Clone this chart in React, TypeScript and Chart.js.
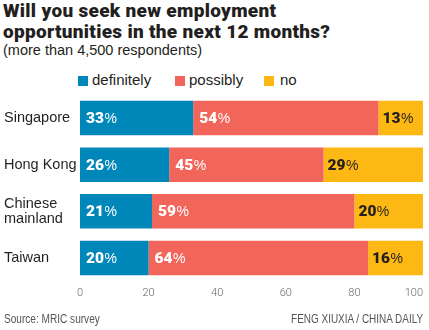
import React, { useEffect, useRef } from "react";
import { Chart, registerables } from "chart.js";

Chart.register(...registerables);

const categories: (string | string[])[] = ["Singapore", "Hong Kong", ["Chinese", "mainland"], "Taiwan"];
const definitely = [33, 26, 21, 20];
const possibly = [54, 45, 59, 64];
const no = [13, 29, 20, 16];
const seriesNames = ["definitely", "possibly", "no"];
const xTicks = [0, 20, 40, 60, 80, 100];

const COLORS = ["#0087b9", "#f2655a", "#fdb813"];
const DARK = "#231f20";

const barLabels = {
  id: "barLabels",
  afterDatasetsDraw(chart: any) {
    const ctx = chart.ctx;
    ctx.save();
    ctx.textBaseline = "middle";
    chart.data.datasets.forEach((ds: any, di: number) => {
      const meta = chart.getDatasetMeta(di);
      meta.data.forEach((bar: any, i: number) => {
        const v = ds.data[i];
        const x0 = Math.min(bar.base, bar.x) + (di === 2 ? 4 : 6);
        const y = bar.y + 1;
        ctx.fillStyle = di === 2 ? DARK : "#ffffff";
        ctx.textAlign = "left";
        ctx.font = "900 15.5px Roboto";
        const num = String(v);
        ctx.fillText(num, x0, y);
        const w = ctx.measureText(num).width;
        ctx.font = "400 14px 'Liberation Sans'";
        ctx.fillText("%", x0 + w + 0.5, y);
      });
    });
    // x tick labels
    const xs = chart.scales.x;
    ctx.fillStyle = "#666";
    ctx.font = "300 11px Roboto";
    ctx.textBaseline = "middle";
    xTicks.forEach((t, i) => {
      const px = xs.getPixelForValue(t);
      if (i === xTicks.length - 1) {
        ctx.textAlign = "right";
        ctx.fillText(String(t), px, 293);
      } else {
        ctx.textAlign = "center";
        ctx.fillText(String(t), px, 293);
      }
    });
    ctx.restore();
  },
};

export default function App() {
  const ref = useRef<HTMLCanvasElement>(null);
  useEffect(() => {
    if (!ref.current) return;
    const data = [definitely, possibly, no];
    const chart = new Chart(ref.current, {
      type: "bar",
      data: {
        labels: categories,
        datasets: data.map((d, i) => ({
          label: seriesNames[i],
          data: d,
          backgroundColor: COLORS[i],
          borderWidth: 0,
          barPercentage: 1,
          categoryPercentage: 0.74,
        })),
      },
      options: {
        indexAxis: "y",
        responsive: false,
        animation: false,
        layout: { padding: { left: 4, right: 6, top: 94.7, bottom: 40.7 } },
        plugins: { legend: { display: false }, tooltip: { enabled: false } },
        scales: {
          x: {
            stacked: true,
            min: 0,
            max: 100,
            ticks: { display: false, stepSize: 20 },
            grid: { display: false },
            border: { display: false },
          },
          y: {
            stacked: true,
            grid: { display: false },
            border: { display: false },
            afterFit: (s: any) => {
              s.width = 76;
            },
            ticks: {
              crossAlign: "far",
              color: DARK,
              font: { family: "'Liberation Sans'", size: 14.5, lineHeight: 1 },
            },
          },
        },
      },
      plugins: [barLabels],
    });
    return () => chart.destroy();
  }, []);

  const abs = (o: React.CSSProperties): React.CSSProperties => ({ position: "absolute", margin: 0, whiteSpace: "nowrap", ...o });
  const legendItems = [
    { sx: 78, tx: 92, label: seriesNames[0] },
    { sx: 175, tx: 189, label: seriesNames[1] },
    { sx: 264, tx: 280, label: seriesNames[2] },
  ];

  return (
    <div style={{ position: "absolute", left: 0, top: 0, width: 429, height: 330, background: "#fff", overflow: "hidden", color: DARK }}>
      <div style={abs({ left: 3, top: 0, fontFamily: "Roboto", fontWeight: 900, fontSize: 19, lineHeight: "21px", letterSpacing: "0.3px" })}>
        Will you seek new employment
        <br />
        opportunities in the next 12 months?
      </div>
      <div style={abs({ left: 3, top: 42, fontFamily: "'Liberation Sans'", fontSize: 14.5, lineHeight: "16px" })}>
        (more than 4,500 respondents)
      </div>
      {legendItems.map((it, i) => (
        <React.Fragment key={i}>
          <div style={abs({ left: it.sx, top: 76, width: 10, height: 10, background: COLORS[i] })} />
          <div style={abs({ left: it.tx, top: 71, fontFamily: "'Liberation Sans'", fontSize: 15, lineHeight: "17px" })}>{it.label}</div>
        </React.Fragment>
      ))}
      <canvas ref={ref} width={429} height={330} style={{ position: "absolute", left: 0, top: 0, width: 429, height: 330 }} />
      <div style={abs({ left: 4, top: 312, fontFamily: "'Liberation Sans'", fontSize: 12, lineHeight: "14px", color: "#555", transform: "scaleX(0.84)", transformOrigin: "left top" })}>
        Source: MRIC survey
      </div>
      <div style={abs({ right: 6, top: 312, fontFamily: "'Liberation Sans'", fontSize: 12, lineHeight: "14px", color: "#555", transform: "scaleX(0.83)", transformOrigin: "right top" })}>
        FENG XIUXIA / CHINA DAILY
      </div>
    </div>
  );
}
